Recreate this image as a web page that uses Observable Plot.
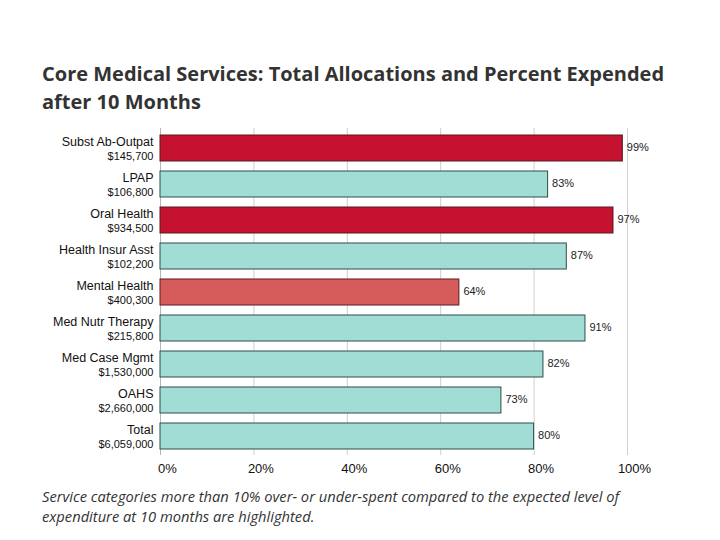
<!DOCTYPE html>
<html>
<head>
<meta charset="utf-8">
<script src="https://cdn.jsdelivr.net/npm/d3@7"></script>
<script src="https://cdn.jsdelivr.net/npm/@observablehq/plot@0.6"></script>
<style>
  html, body { margin: 0; padding: 0; background: #fff; width: 720px; height: 540px; overflow: hidden; }
  #title { position: absolute; left: 42px; top: 60px; font-family: "Open Sans", sans-serif; font-weight: 700; font-size: 20px; line-height: 28px; color: #333; white-space: nowrap; }
  #chart { position: absolute; left: 0; top: 120px; }
  #caption { position: absolute; left: 42px; top: 486px; font-family: "Open Sans", sans-serif; font-style: italic; font-size: 14.7px; line-height: 20px; color: #333; white-space: nowrap; }
</style>
</head>
<body>
<div id="title">Core Medical Services: Total Allocations and Percent Expended<br>after 10 Months</div>
<div id="chart"></div>
<div id="caption">Service categories more than 10% over- or under-spent compared to the expected level of<br>expenditure at 10 months are highlighted.</div>
<script>
const categories = ["Subst Ab-Outpat", "LPAP", "Oral Health", "Health Insur Asst", "Mental Health", "Med Nutr Therapy", "Med Case Mgmt", "OAHS", "Total"];
const allocations = ["$145,700", "$106,800", "$934,500", "$102,200", "$400,300", "$215,800", "$1,530,000", "$2,660,000", "$6,059,000"];
const percentExpended = [99, 83, 97, 87, 64, 91, 82, 73, 80];
const status = ["over", "normal", "over", "normal", "under", "normal", "normal", "normal", "normal"];
const xTicks = [0, 20, 40, 60, 80, 100];

const data = categories.map((c, i) => ({
  category: c,
  allocation: allocations[i],
  pct: percentExpended[i],
  status: status[i]
}));

const chart = Plot.plot({
  width: 720,
  height: 360,
  marginLeft: 160,
  marginRight: 93,
  marginTop: 8,
  marginBottom: 25,
  style: { fontFamily: "'Liberation Sans', Arial, sans-serif", fontSize: "12px", color: "#111", background: "#fff" },
  x: { domain: [0, 100], ticks: xTicks, tickFormat: d => d + "%", label: null },
  y: { domain: categories, paddingInner: 0.29, paddingOuter: 0.145, axis: null, label: null },
  color: { domain: ["over", "normal", "under"], range: ["#C41230", "#A2DDD5", "#D65C5C"] },
  marks: [
    Plot.ruleX(xTicks.filter(d => d > 0), { stroke: "#cfcfcf", strokeWidth: 1 }),
    Plot.ruleX([0], { stroke: "#b5b5b5", strokeWidth: 1 }),
    Plot.barX(data, {
      x: "pct", y: "category", fill: "status",
      stroke: d => d.status === "normal" ? "#2c4f49" : "#5a1a20",
      strokeWidth: 1
    }),
    Plot.text(data, {
      x: "pct", y: "category", text: d => d.pct + "%",
      textAnchor: "start", dx: 4, dy: -1, fontSize: 11, fill: "#222"
    }),
    Plot.text(data, {
      x: () => 0, y: "category", text: "category",
      textAnchor: "end", dx: -7, dy: -7, fontSize: 12.5, fill: "#111"
    }),
    Plot.text(data, {
      x: () => 0, y: "category", text: "allocation",
      textAnchor: "end", dx: -7, dy: 8, fontSize: 11, fill: "#111"
    }),
    Plot.ruleY([0], { frameAnchor: "bottom", stroke: "#111", strokeWidth: 1.5 }),
    Plot.axisX({ ticks: xTicks, tickFormat: d => d + "%", tickSize: 0, tickPadding: 8, dx: 7, fontSize: 13, label: null })
  ]
});

document.getElementById("chart").appendChild(chart);
</script>
</body>
</html>
